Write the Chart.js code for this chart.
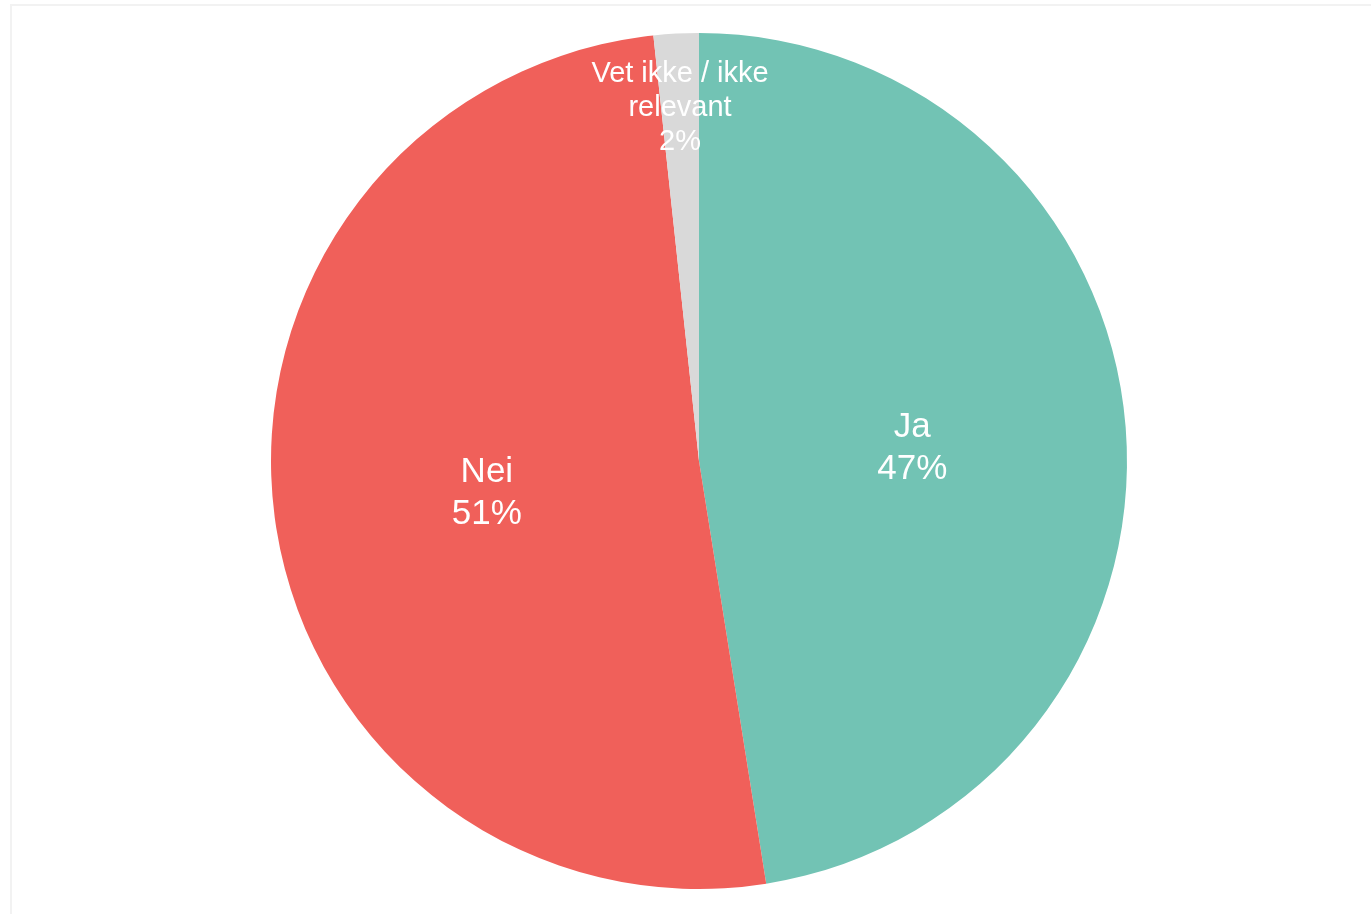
<!DOCTYPE html>
<html>
<head>
<meta charset="utf-8">
<script src="https://cdn.jsdelivr.net/npm/chart.js@4"></script>
<style>
  html, body { margin: 0; padding: 0; background: #ffffff; overflow: hidden; }
  #frame { position: absolute; left: 10px; top: 4px; width: 1400px; height: 950px; border: 2px solid #f2f2f2; box-sizing: border-box; }
  #wrap { position: absolute; left: 0; top: 0; width: 1371px; height: 914px; }
</style>
</head>
<body>
<div id="frame"></div>
<div id="wrap"><canvas id="c" width="1371" height="914"></canvas></div>
<script>
const categories = ['Ja', 'Nei', 'Vet ikke / ikke relevant'];
const values = [47.49, 50.81, 1.7];
const colors = ['#72C3B4', '#F0605A', '#D9D9D9'];

const labelPlugin = {
  id: 'sliceLabels',
  afterDatasetsDraw(chart) {
    const ctx = chart.ctx;
    const meta = chart.getDatasetMeta(0);
    const data = chart.data.datasets[0].data;
    const total = data.reduce((a, b) => a + b, 0);
    meta.data.forEach((arc, i) => {
      const p = arc.getProps(['x', 'y', 'startAngle', 'endAngle', 'outerRadius'], true);
      const frac = data[i] / total;
      const mid = (p.startAngle + p.endAngle) / 2;
      const small = frac < 0.05;
      const r = p.outerRadius * (small ? 0.83 : 0.5);
      const cx = p.x + Math.cos(mid) * r;
      const cy = p.y + Math.sin(mid) * r + (small ? 2 : 4);
      const fs = small ? 29 : 35;
      const lh = small ? 34 : 42;
      ctx.save();
      ctx.font = fs + 'px "Liberation Sans", Arial, sans-serif';
      ctx.fillStyle = '#ffffff';
      ctx.textAlign = 'center';
      ctx.textBaseline = 'middle';
      const words = chart.data.labels[i].split(' ');
      const lines = [];
      let cur = '';
      words.forEach(w => {
        const t = cur ? cur + ' ' + w : w;
        if (ctx.measureText(t).width > 200 && cur) { lines.push(cur); cur = w; }
        else cur = t;
      });
      if (cur) lines.push(cur);
      lines.push(Math.round(frac * 100) + '%');
      const n = lines.length;
      lines.forEach((ln, k) => {
        ctx.fillText(ln, cx, cy + (k - (n - 1) / 2) * lh);
      });
      ctx.restore();
    });
  }
};

new Chart(document.getElementById('c'), {
  type: 'pie',
  data: {
    labels: categories,
    datasets: [{
      data: values,
      backgroundColor: colors,
      borderWidth: 0,
      hoverOffset: 0
    }]
  },
  options: {
    responsive: false,
    animation: false,
    layout: { padding: { top: 33, bottom: 25, left: 271, right: 244 } },
    plugins: {
      legend: { display: false },
      tooltip: { enabled: false }
    }
  },
  plugins: [labelPlugin]
});
</script>
</body>
</html>
